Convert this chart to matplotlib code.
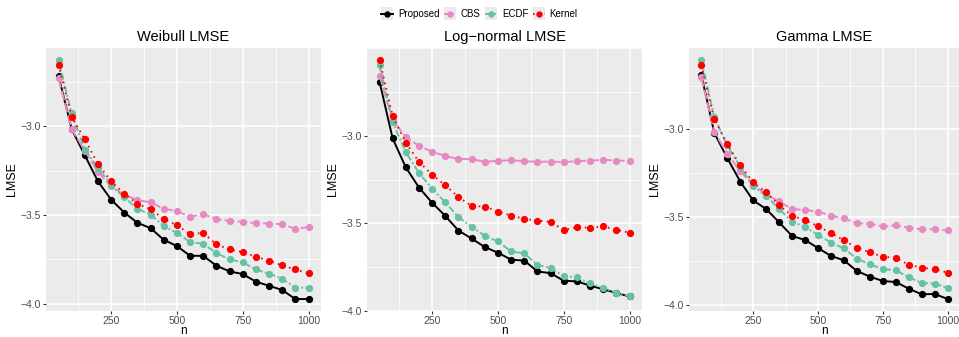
import numpy as np
import matplotlib.pyplot as plt
from matplotlib.lines import Line2D
from matplotlib.patches import Rectangle
from matplotlib.legend_handler import HandlerLine2D
from matplotlib.ticker import MultipleLocator

plt.rcParams['font.family'] = ['Liberation Sans', 'DejaVu Sans']

n = np.arange(50, 1001, 50)

weibull_proposed = [-2.715, -3.015, -3.163, -3.31, -3.413, -3.486, -3.544, -3.574, -3.64, -3.675,
                    -3.73, -3.73, -3.786, -3.818, -3.833, -3.876, -3.899, -3.923, -3.974, -3.974]
weibull_cbs = [-2.728, -3.015, -3.137, -3.257, -3.338, -3.386, -3.416, -3.428, -3.465, -3.478,
               -3.51, -3.495, -3.523, -3.533, -3.538, -3.546, -3.548, -3.552, -3.578, -3.568]
weibull_ecdf = [-2.625, -2.927, -3.131, -3.233, -3.332, -3.4, -3.465, -3.497, -3.563, -3.6,
                -3.653, -3.662, -3.715, -3.75, -3.767, -3.807, -3.831, -3.859, -3.91, -3.91]
weibull_kernel = [-2.651, -2.946, -3.073, -3.212, -3.31, -3.379, -3.437, -3.467, -3.522, -3.557,
                  -3.608, -3.6, -3.666, -3.694, -3.709, -3.735, -3.758, -3.784, -3.807, -3.829]

lognorm_proposed = [-2.69, -3.015, -3.18, -3.295, -3.382, -3.457, -3.541, -3.586, -3.635, -3.667,
                    -3.707, -3.712, -3.774, -3.784, -3.827, -3.831, -3.855, -3.876, -3.897, -3.917]
lognorm_cbs = [-2.656, -2.912, -3.006, -3.058, -3.09, -3.115, -3.132, -3.133, -3.148, -3.143,
               -3.139, -3.145, -3.148, -3.147, -3.15, -3.145, -3.141, -3.137, -3.141, -3.143]
lognorm_ecdf = [-2.598, -2.923, -3.094, -3.212, -3.301, -3.38, -3.464, -3.519, -3.571, -3.603,
                -3.66, -3.671, -3.737, -3.754, -3.801, -3.808, -3.842, -3.868, -3.897, -3.914]
lognorm_kernel = [-2.566, -2.889, -3.039, -3.148, -3.222, -3.282, -3.35, -3.4, -3.404, -3.432,
                  -3.455, -3.474, -3.485, -3.491, -3.538, -3.523, -3.524, -3.517, -3.536, -3.553]

gamma_proposed = [-2.688, -3.019, -3.163, -3.297, -3.405, -3.454, -3.53, -3.608, -3.631, -3.677,
                  -3.722, -3.747, -3.808, -3.84, -3.865, -3.871, -3.909, -3.941, -3.939, -3.968]
gamma_cbs = [-2.702, -3.013, -3.139, -3.238, -3.317, -3.371, -3.411, -3.454, -3.46, -3.469,
             -3.492, -3.508, -3.536, -3.538, -3.553, -3.548, -3.561, -3.57, -3.57, -3.576]
gamma_ecdf = [-2.603, -2.93, -3.091, -3.213, -3.323, -3.38, -3.454, -3.527, -3.555, -3.603,
              -3.646, -3.679, -3.738, -3.77, -3.797, -3.804, -3.844, -3.876, -3.88, -3.905]
gamma_kernel = [-2.633, -2.939, -3.084, -3.205, -3.302, -3.359, -3.432, -3.492, -3.517, -3.553,
                -3.591, -3.633, -3.675, -3.702, -3.726, -3.734, -3.772, -3.789, -3.798, -3.817]

titles = ['Weibull LMSE', 'Log\u2212normal LMSE', 'Gamma LMSE']
panels = [
    [weibull_proposed, weibull_cbs, weibull_ecdf, weibull_kernel],
    [lognorm_proposed, lognorm_cbs, lognorm_ecdf, lognorm_kernel],
    [gamma_proposed, gamma_cbs, gamma_ecdf, gamma_kernel],
]
methods = ['Proposed', 'CBS', 'ECDF', 'Kernel']
colors = ['black', '#E78AC3', '#66C2A5', '#FF0000']
dashes = [None, (5, 1.6), (3.5, 1.2, 1, 1.2), (0.8, 2.2)]


class KeyHandler(HandlerLine2D):
    # ggplot-like legend key: grey box behind line + point
    def create_artists(self, legend, orig_handle, xdescent, ydescent, width, height,
                       fontsize, trans):
        box = Rectangle((-xdescent, -ydescent - 2.5), width, height + 5,
                        facecolor='#EBEBEB', edgecolor='none', transform=trans)
        arts = super().create_artists(legend, orig_handle, xdescent, ydescent, width,
                                      height, fontsize, trans)
        return [box] + arts


W, H = 959, 337
fig = plt.figure(figsize=(W / 100, H / 100), dpi=100)

lefts = [46, 367, 689]
widths = [275, 275, 271]
top, bottom = 48, 311

for i, (title, series) in enumerate(zip(titles, panels)):
    ax = fig.add_axes([lefts[i] / W, (H - bottom) / H, widths[i] / W, (bottom - top) / H])
    ax.set_facecolor('#EBEBEB')
    for vals, c, d in zip(series, colors, dashes):
        line, = ax.plot(n, vals, color=c, lw=1.4, marker='o', ms=4.2, zorder=3)
        if d is not None:
            line.set_dashes(d)
    allv = np.concatenate([np.asarray(s) for s in series])
    lo, hi = allv.min(), allv.max()
    pad = 0.05 * (hi - lo)
    ax.set_ylim(lo - pad, hi + pad)
    ax.set_xlim(50 - 47.5, 1000 + 47.5)
    ax.xaxis.set_minor_locator(MultipleLocator(125))
    ax.yaxis.set_minor_locator(MultipleLocator(0.25))
    ax.set_xticks([250, 500, 750, 1000])
    ax.set_yticks([-4.0, -3.5, -3.0])
    ax.set_yticklabels(['\u22124.0', '\u22123.5', '\u22123.0'])
    ax.grid(which='major', color='white', lw=1.1)
    ax.grid(which='minor', color='white', lw=0.55)
    ax.set_axisbelow(True)
    for s in ax.spines.values():
        s.set_visible(False)
    ax.tick_params(which='major', length=2.2, width=0.8, color='#333333',
                   labelsize=7.5, labelcolor='#4D4D4D', pad=1.5)
    ax.tick_params(which='minor', length=0)
    ax.set_title(title, fontsize=10.5, pad=5)
    ax.set_xlabel('n', fontsize=8.5, labelpad=-0.5)
    ax.set_ylabel('LMSE', fontsize=9, labelpad=1.5)

handles = []
for m, c, d in zip(methods, colors, dashes):
    h = Line2D([], [], color=c, lw=1.4, marker='o', ms=3.6)
    if d is not None:
        h.set_dashes(d)
    handles.append(h)
fig.legend(handles, methods, loc='center', bbox_to_anchor=(0.5, 1 - 14 / H), ncol=4,
           frameon=False, fontsize=7, handlelength=1.2, handletextpad=0.5,
           columnspacing=0.5, handler_map={Line2D: KeyHandler()})

fig.savefig('out.png', dpi=100)
